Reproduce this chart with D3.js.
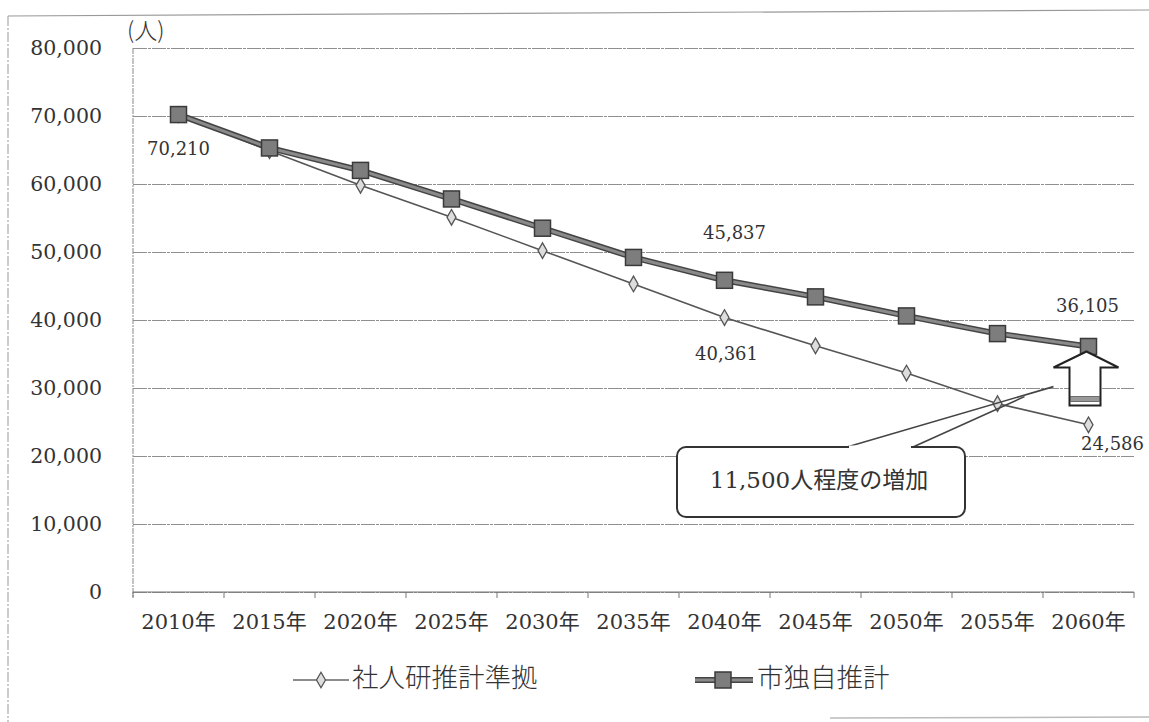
<!DOCTYPE html>
<html lang="ja">
<head>
<meta charset="utf-8">
<title>将来人口推計</title>
<style>
  body { margin: 0; padding: 0; background: #fff; }
  svg { display: block; }
  .num { font-family: "DejaVu Serif", "Noto Sans CJK JP", serif; fill: #333; }
  .grid line { stroke: #8f8f8f; stroke-width: 1; stroke-dasharray: 14,1,3,1; }
  .grid path { display: none; }
  .yaxis path, .xaxis path { display: none; }
  .yaxis text, .xaxis text { font-family: "DejaVu Serif", "Noto Sans CJK JP", serif; fill: #333; }
</style>
</head>
<body>
<div id="chart"></div>
<script src="https://d3js.org/d3.v7.min.js"></script>
<script>
  // data
  const years = ["2010年", "2015年", "2020年", "2025年", "2030年", "2035年",
                 "2040年", "2045年", "2050年", "2055年", "2060年"];
  const ipssValues = [70210, 64900, 59800, 55100, 50200, 45300, 40361, 36200, 32200, 27700, 24586];
  const cityValues = [70210, 65300, 62000, 57800, 53500, 49200, 45837, 43400, 40600, 38000, 36105];
  const yTicks = [0, 10000, 20000, 30000, 40000, 50000, 60000, 70000, 80000];
  const seriesNames = ["社人研推計準拠", "市独自推計"];
  const unitLabel = "(人)";
  const calloutText = "11,500人程度の増加";

  const W = 1149, H = 722;
  const plot = { left: 133, right: 1134, top: 48, bottom: 592 };

  const svg = d3.select("#chart").append("svg")
    .attr("width", W)
    .attr("height", H);

  // scanned page frame
  svg.append("line").attr("x1", 8).attr("y1", 16).attr("x2", 1149).attr("y2", 10)
    .style("stroke", "#999").style("stroke-width", 1.2);
  svg.append("line").attr("x1", 8).attr("y1", 16).attr("x2", 8).attr("y2", 722)
    .style("stroke", "#aaa").style("stroke-width", 1.2).style("stroke-dasharray", "10,2,2,2");
  svg.append("line").attr("x1", 830).attr("y1", 718).attr("x2", 1149).attr("y2", 717)
    .style("stroke", "#bbb").style("stroke-width", 1.5);

  const x = d3.scaleBand()
    .domain(years)
    .range([plot.left, plot.right]);

  const y = d3.scaleLinear()
    .domain([0, 80000])
    .range([plot.bottom, plot.top]);

  const cx = function(d, i) { return x(years[i]) + x.bandwidth() / 2; };

  // gridlines
  svg.append("g")
    .attr("class", "grid")
    .attr("transform", "translate(" + plot.left + ",0)")
    .call(d3.axisLeft(y).tickValues(yTicks).tickSize(-(plot.right - plot.left)).tickFormat(""));

  // y axis
  svg.append("line")
    .attr("x1", plot.left).attr("x2", plot.left)
    .attr("y1", y(80000)).attr("y2", y(0) + 6)
    .style("stroke", "#888").style("stroke-dasharray", "6,1,2,1");

  svg.append("g")
    .attr("class", "yaxis")
    .attr("transform", "translate(" + plot.left + ",0)")
    .call(d3.axisLeft(y).tickValues(yTicks).tickSize(0).tickPadding(31).tickFormat(d3.format(",")))
    .selectAll("text")
    .style("font-size", "20.5px");

  // x axis
  const xAxis = svg.append("g")
    .attr("class", "xaxis")
    .attr("transform", "translate(0," + plot.bottom + ")")
    .call(d3.axisBottom(x).tickSize(0).tickPadding(22));
  xAxis.selectAll("text").style("font-size", "21px");

  svg.append("line")
    .attr("x1", plot.left).attr("x2", plot.right)
    .attr("y1", plot.bottom).attr("y2", plot.bottom)
    .style("stroke", "#777");

  svg.selectAll(".xtick")
    .data(years.concat(["end"]))
    .enter()
    .append("line")
    .attr("class", "xtick")
    .attr("x1", function(d, i) { return plot.left + i * x.bandwidth(); })
    .attr("x2", function(d, i) { return plot.left + i * x.bandwidth(); })
    .attr("y1", plot.bottom)
    .attr("y2", plot.bottom + 6)
    .style("stroke", "#777");

  svg.append("text")
    .attr("class", "num")
    .attr("x", plot.left - 6)
    .attr("y", 39)
    .style("font-size", "23px")
    .style("font-family", "'Noto Sans CJK JP', sans-serif")
    .style("font-weight", 300)
    .text(unitLabel);

  // series lines
  const line = d3.line()
    .x(function(d, i) { return cx(d, i); })
    .y(function(d) { return y(d); });

  svg.append("path")
    .datum(ipssValues)
    .attr("d", line)
    .style("fill", "none")
    .style("stroke", "#555")
    .style("stroke-width", 1.6);

  svg.append("path")
    .datum(cityValues)
    .attr("d", line)
    .style("fill", "none")
    .style("stroke", "#444")
    .style("stroke-width", 6);

  svg.append("path")
    .datum(cityValues)
    .attr("d", line)
    .style("fill", "none")
    .style("stroke", "#8a8a8a")
    .style("stroke-width", 3);

  const diamond = d3.symbol().type(d3.symbolDiamond).size(70);

  svg.selectAll(".ipss")
    .data(ipssValues)
    .enter()
    .append("path")
    .attr("class", "ipss")
    .attr("d", diamond)
    .attr("transform", function(d, i) { return "translate(" + cx(d, i) + "," + y(d) + ")"; })
    .style("fill", "#ddd")
    .style("stroke", "#555")
    .style("stroke-width", 1.3);

  const sq = 16;
  svg.selectAll(".city")
    .data(cityValues)
    .enter()
    .append("rect")
    .attr("class", "city")
    .attr("x", function(d, i) { return cx(d, i) - sq / 2; })
    .attr("y", function(d) { return y(d) - sq / 2; })
    .attr("width", sq)
    .attr("height", sq)
    .style("fill", "#7d7d7d")
    .style("stroke", "#3a3a3a")
    .style("stroke-width", 1.5);

  // data labels
  const labels = [
    { series: cityValues, i: 0, dx: 0, dy: 35 },
    { series: cityValues, i: 6, dx: 10, dy: -46 },
    { series: ipssValues, i: 6, dx: 2, dy: 37 },
    { series: cityValues, i: 10, dx: -1, dy: -39 },
    { series: ipssValues, i: 10, dx: 24, dy: 20 }
  ];

  svg.selectAll(".dlabel")
    .data(labels)
    .enter()
    .append("text")
    .attr("class", "num dlabel")
    .attr("x", function(d) { return cx(null, d.i) + d.dx; })
    .attr("y", function(d) { return y(d.series[d.i]) + d.dy; })
    .attr("text-anchor", "middle")
    .attr("dominant-baseline", "middle")
    .style("font-size", "18px")
    .text(function(d) { return d3.format(",")(d.series[d.i]); });

  // up arrow under the 2060 point
  const ax = cx(null, 10) - 2, ay = y(cityValues[10]) + 5;
  const arrow = [
    [ax, ay], [ax + 32, ay + 16], [ax + 14, ay + 16], [ax + 14, ay + 54],
    [ax - 17, ay + 54], [ax - 17, ay + 16], [ax - 33, ay + 16]
  ];
  svg.append("path")
    .attr("d", d3.line()(arrow) + "Z")
    .style("fill", "#fff")
    .style("stroke", "#222")
    .style("stroke-width", 2);
  svg.append("rect")
    .attr("x", ax - 16).attr("y", ay + 45)
    .attr("width", 29).attr("height", 5)
    .style("fill", "#999").style("stroke", "#555").style("stroke-width", 0.8);

  // callout box with pointer
  const tip = [cx(null, 9) + 56, y(30200)];
  const box = { x0: 677, y0: 447, x1: 965, y1: 517 };
  svg.append("path")
    .attr("d", d3.line()([[box.x0 + 170, box.y0], tip]))
    .style("stroke", "#444").style("stroke-width", 1.6).style("fill", "none");
  svg.append("path")
    .attr("d", d3.line()([[box.x0 + 236, box.y0], [tip[0] - 29, tip[1] + 10]]))
    .style("stroke", "#444").style("stroke-width", 1.6).style("fill", "none");

  svg.append("rect")
    .attr("x", box.x0).attr("y", box.y0)
    .attr("width", box.x1 - box.x0).attr("height", box.y1 - box.y0)
    .attr("rx", 9).attr("ry", 9)
    .style("fill", "#fff")
    .style("stroke", "#333")
    .style("stroke-width", 2);

  // open the pointer gap in the box top
  svg.append("line")
    .attr("x1", box.x0 + 172).attr("x2", box.x0 + 234)
    .attr("y1", box.y0).attr("y2", box.y0)
    .style("stroke", "#fff").style("stroke-width", 3);

  svg.append("text")
    .attr("class", "num")
    .attr("x", (box.x0 + box.x1) / 2 - 2)
    .attr("y", (box.y0 + box.y1) / 2)
    .attr("text-anchor", "middle")
    .attr("dominant-baseline", "middle")
    .style("font-size", "23px")
    .text(calloutText);

  // legend
  const legendY = 680;
  const leg = svg.append("g");

  leg.append("line")
    .attr("x1", 293).attr("x2", 349).attr("y1", legendY).attr("y2", legendY)
    .style("stroke", "#666").style("stroke-width", 1.6);
  leg.append("path")
    .attr("d", diamond)
    .attr("transform", "translate(321," + legendY + ")")
    .style("fill", "#ddd").style("stroke", "#555").style("stroke-width", 1.3);
  leg.append("text")
    .attr("x", 352).attr("y", legendY)
    .attr("dominant-baseline", "middle")
    .style("font-family", "'Noto Sans CJK JP', sans-serif")
    .style("font-size", "26.5px")
    .style("font-weight", 300)
    .style("fill", "#333")
    .text(seriesNames[0]);

  leg.append("line")
    .attr("x1", 695).attr("x2", 753).attr("y1", legendY).attr("y2", legendY)
    .style("stroke", "#444").style("stroke-width", 6);
  leg.append("line")
    .attr("x1", 695).attr("x2", 753).attr("y1", legendY).attr("y2", legendY)
    .style("stroke", "#8a8a8a").style("stroke-width", 3);
  leg.append("rect")
    .attr("x", 723 - sq / 2).attr("y", legendY - sq / 2)
    .attr("width", sq).attr("height", sq)
    .style("fill", "#7d7d7d").style("stroke", "#3a3a3a").style("stroke-width", 1.5);
  leg.append("text")
    .attr("x", 757).attr("y", legendY)
    .attr("dominant-baseline", "middle")
    .style("font-family", "'Noto Sans CJK JP', sans-serif")
    .style("font-size", "26.5px")
    .style("font-weight", 300)
    .style("fill", "#333")
    .text(seriesNames[1]);
</script>
</body>
</html>
